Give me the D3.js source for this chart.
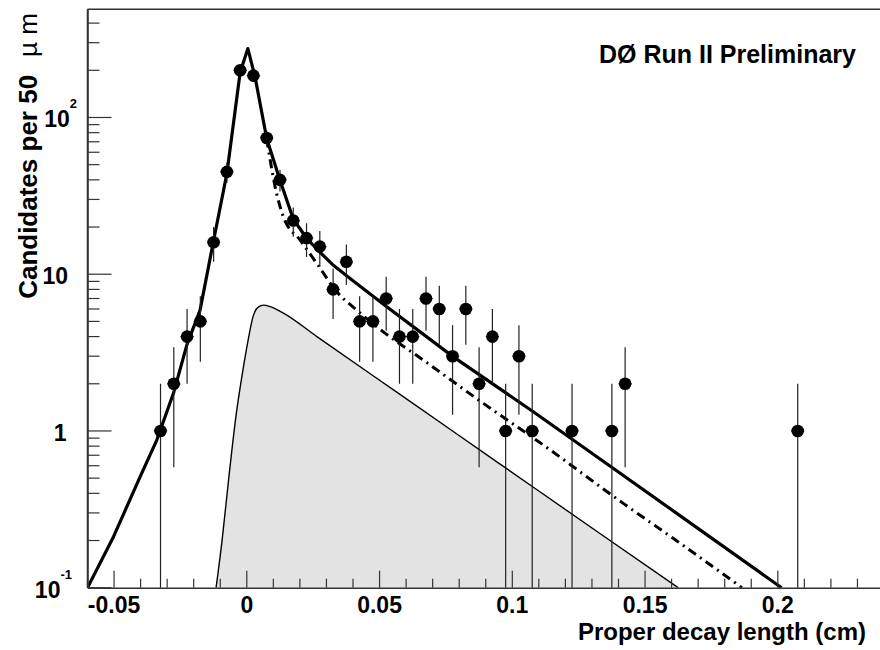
<!DOCTYPE html>
<html>
<head>
<meta charset="utf-8">
<script src="https://cdn.jsdelivr.net/npm/d3@7"></script>
<style>
  html, body { margin: 0; padding: 0; background: #ffffff; }
  svg { display: block; }
</style>
</head>
<body>
<script>
// Candidates per 50 um bin: bin centre (cm) and counts
const binCentres = [-0.0325, -0.0275, -0.0225, -0.0175, -0.0125, -0.0075, -0.0025,
  0.0025, 0.0075, 0.0125, 0.0175, 0.0225, 0.0275, 0.0325, 0.0375, 0.0425, 0.0475,
  0.0525, 0.0575, 0.0625, 0.0675, 0.0725, 0.0775, 0.0825, 0.0875, 0.0925, 0.0975,
  0.1025, 0.1075, 0.1225, 0.1375, 0.1425, 0.2075];
const binCounts = [1, 2, 4, 5, 16, 45, 200,
  185, 74, 40, 22, 17, 15, 8, 12, 5, 5,
  7, 4, 4, 7, 6, 3, 6, 2, 4, 1,
  3, 1, 1, 1, 2, 1];
const binHalfWidth = 0.0025;

// Total fit, sampled along the decay length
const totalX = [-0.06, -0.0502, -0.0402, -0.0339, -0.0276, -0.0226, -0.0176, -0.0126,
  -0.0075, -0.0025, 0.0004, 0.0031, 0.0075, 0.0125, 0.0175, 0.0226, 0.0276, 0.0326,
  0.0389, 0.0527, 0.0778, 0.1079, 0.1393, 0.1707, 0.2014];
const totalY = [0.1, 0.2115, 0.51, 0.875, 1.745, 3.53, 5.9, 16.1,
  43.9, 194.5, 275, 181.6, 73.5, 39.8, 22.5, 16.9, 13.8, 11.4,
  9.4, 6.2, 2.97, 1.326, 0.557, 0.234, 0.1];

// Background component (dash-dotted)
const bkgX = [0.0075, 0.0107, 0.0138, 0.0201, 0.0264, 0.0339, 0.0414, 0.0514,
  0.0665, 0.0891, 0.1117, 0.1418, 0.1606, 0.1865];
const bkgY = [73.5, 35.9, 23.2, 16.5, 11.7, 7.72, 5.9, 4.29,
  2.83, 1.5, 0.813, 0.345, 0.2065, 0.1];

// Signal component (shaded)
const sigX = [-0.01156, -0.0093, -0.00667, -0.00403, -0.00177, 0.0005, 0.0024, 0.0043,
  0.0063, 0.0088, 0.0138, 0.0264, 0.0577, 0.0954, 0.133, 0.1625];
const sigY = [0.1, 0.201, 0.523, 1.263, 2.27, 3.8, 5.4, 6.17,
  6.35, 6.21, 5.65, 4.0, 1.71, 0.615, 0.2217, 0.1];

// Axis ticks and labels
const xMajorTicks = [-0.05, 0, 0.05, 0.1, 0.15, 0.2];
const xMajorLabels = ["-0.05", "0", "0.05", "0.1", "0.15", "0.2"];
const xMinorTicks = [-0.06, -0.04, -0.03, -0.02, -0.01, 0.01, 0.02, 0.03, 0.04,
  0.06, 0.07, 0.08, 0.09, 0.11, 0.12, 0.13, 0.14, 0.16, 0.17, 0.18, 0.19,
  0.21, 0.22, 0.23];
const yMajorTicks = [0.1, 1, 10, 100];
const yMajorBase = ["10", "1", "10", "10"];
const yMajorExp = ["-1", "", "", "2"];
const yMinorTicks = [0.2, 0.3, 0.4, 0.5, 0.6, 0.7, 0.8, 0.9,
  2, 3, 4, 5, 6, 7, 8, 9, 20, 30, 40, 50, 60, 70, 80, 90, 200, 300, 400];

const W = 880, H = 650;
const frame = { left: 87.5, top: 9.3, right: 884, bottom: 587.7 };

const svg = d3.select("body").append("svg")
  .attr("width", W).attr("height", H)
  .attr("font-family", "'Liberation Sans', Arial, Helvetica, sans-serif");

const x = d3.scaleLinear().domain([-0.06, 0.24]).range([frame.left, frame.right]);
const y = d3.scaleLog().domain([0.1, 490]).range([frame.bottom, frame.top]);

svg.append("defs").append("clipPath").attr("id", "plotClip")
  .append("rect")
  .attr("x", frame.left).attr("y", frame.top)
  .attr("width", frame.right - frame.left).attr("height", frame.bottom - frame.top);

const plot = svg.append("g").attr("clip-path", "url(#plotClip)");

const sigPts = sigX.map((v, i) => [v, sigY[i]]);
const totPts = totalX.map((v, i) => [v, totalY[i]]);
const bkgPts = bkgX.map((v, i) => [v, bkgY[i]]);

// shaded signal component
plot.append("path")
  .datum(sigPts)
  .attr("fill", "#e3e3e3")
  .attr("stroke", "none")
  .attr("d", d3.area().x(d => x(d[0])).y0(y(0.1)).y1(d => y(d[1])).curve(d3.curveMonotoneX));
plot.append("path")
  .datum(sigPts)
  .attr("fill", "none")
  .attr("stroke", "#000")
  .attr("stroke-width", 1.4)
  .attr("d", d3.line().x(d => x(d[0])).y(d => y(d[1])).curve(d3.curveMonotoneX));

// background component
plot.append("path")
  .datum(bkgPts)
  .attr("fill", "none")
  .attr("stroke", "#000")
  .attr("stroke-width", 3)
  .attr("stroke-dasharray", "9,5,2,5")
  .attr("d", d3.line().x(d => x(d[0])).y(d => y(d[1])).curve(d3.curveMonotoneX));

// total fit
plot.append("path")
  .datum(totPts)
  .attr("fill", "none")
  .attr("stroke", "#000")
  .attr("stroke-width", 3.2)
  .attr("stroke-linejoin", "round")
  .attr("d", d3.line().x(d => x(d[0])).y(d => y(d[1])).curve(d3.curveLinear));

// data points with sqrt(N) errors
const pts = binCentres.map((c, i) => ({ c, n: binCounts[i] }));
const eb = plot.append("g").attr("stroke", "#222").attr("stroke-width", 1.2);
eb.selectAll("line.v").data(pts).join("line")
  .attr("class", "v")
  .attr("x1", d => x(d.c)).attr("x2", d => x(d.c))
  .attr("y1", d => y(d.n + Math.sqrt(d.n)))
  .attr("y2", d => y(Math.max(d.n - Math.sqrt(d.n), 0.05)));
eb.selectAll("line.h").data(pts).join("line")
  .attr("class", "h")
  .attr("x1", d => x(d.c - binHalfWidth)).attr("x2", d => x(d.c + binHalfWidth))
  .attr("y1", d => y(d.n)).attr("y2", d => y(d.n));
plot.append("g").selectAll("circle").data(pts).join("circle")
  .attr("cx", d => x(d.c)).attr("cy", d => y(d.n))
  .attr("r", 6.3).attr("fill", "#000");

// frame
const axisColor = "#333";
svg.append("line").attr("x1", frame.left).attr("x2", frame.right)
  .attr("y1", frame.top).attr("y2", frame.top)
  .attr("stroke", axisColor).attr("stroke-width", 1.5);
svg.append("line").attr("x1", frame.left).attr("x2", frame.left)
  .attr("y1", frame.top).attr("y2", frame.bottom)
  .attr("stroke", axisColor).attr("stroke-width", 1.5);

// x axis
const xAxis = d3.axisBottom(x).tickValues(xMajorTicks).tickSize(0).tickFormat("");
const gx = svg.append("g").attr("transform", `translate(0,${frame.bottom})`).call(xAxis);
gx.select(".domain").attr("stroke", axisColor).attr("stroke-width", 1.5);
gx.selectAll(".tickmark").data(xMajorTicks).join("line")
  .attr("x1", d => x(d)).attr("x2", d => x(d)).attr("y1", 0).attr("y2", -17)
  .attr("stroke", axisColor).attr("stroke-width", 1.2);
gx.selectAll(".minortick").data(xMinorTicks).join("line")
  .attr("x1", d => x(d)).attr("x2", d => x(d)).attr("y1", 0).attr("y2", -9)
  .attr("stroke", axisColor).attr("stroke-width", 1.2);
gx.selectAll(".ticklabel").data(xMajorTicks).join("text")
  .attr("x", d => x(d)).attr("y", 25.5)
  .attr("text-anchor", "middle")
  .attr("font-size", 23).attr("font-weight", "bold").attr("fill", "#000")
  .text((d, i) => xMajorLabels[i]);

// y axis
const yAxis = d3.axisLeft(y).tickValues(yMajorTicks).tickSize(0).tickFormat("");
const gy = svg.append("g").attr("transform", `translate(${frame.left},0)`).call(yAxis);
gy.select(".domain").attr("stroke", axisColor).attr("stroke-width", 1.5);
gy.selectAll(".tickmark").data(yMajorTicks).join("line")
  .attr("x1", 0).attr("x2", 24).attr("y1", d => y(d)).attr("y2", d => y(d))
  .attr("stroke", axisColor).attr("stroke-width", 1.2);
gy.selectAll(".minortick").data(yMinorTicks).join("line")
  .attr("x1", 0).attr("x2", 12).attr("y1", d => y(d)).attr("y2", d => y(d))
  .attr("stroke", axisColor).attr("stroke-width", 1.2);
const yLab = gy.selectAll(".ticklabel").data(yMajorTicks).join("text")
  .attr("x", (d, i) => yMajorExp[i] === "" ? (yMajorBase[i] === "1" ? -21 : -19.5) : (yMajorExp[i] === "2" ? -10.5 : -15.5))
  .attr("y", d => y(d) + 10)
  .attr("text-anchor", "end")
  .attr("font-size", 23).attr("font-weight", "bold").attr("fill", "#000");
yLab.each(function (d, i) {
  const t = d3.select(this);
  t.append("tspan").text(yMajorBase[i]);
  if (yMajorExp[i] !== "") {
    t.append("tspan").attr("dy", -19).attr("font-size", 13).text(yMajorExp[i]);
  }
});

// axis titles
svg.append("text")
  .attr("x", 866).attr("y", 640)
  .attr("text-anchor", "end")
  .attr("font-size", 24).attr("font-weight", "bold")
  .text("Proper decay length (cm)");

const yt = svg.append("text")
  .attr("transform", "translate(36.5,13) rotate(-90)")
  .attr("text-anchor", "end")
  .attr("font-size", 26).attr("font-weight", "bold");
yt.append("tspan").text("Candidates per 50");
yt.append("tspan").attr("dx", 18).attr("font-weight", "normal").text("µ m");

// experiment label
svg.append("text")
  .attr("x", 856).attr("y", 63)
  .attr("text-anchor", "end")
  .attr("font-size", 25).attr("font-weight", "bold")
  .text("DØ Run II Preliminary");
</script>
</body>
</html>
